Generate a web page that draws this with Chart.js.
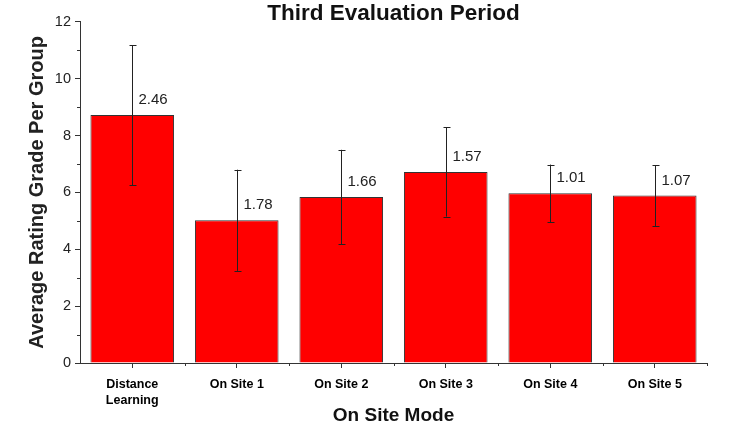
<!DOCTYPE html>
<html>
<head>
<meta charset="utf-8">
<script src="https://cdn.jsdelivr.net/npm/chart.js@4"></script>
<style>
  html, body { margin: 0; padding: 0; background: #fff; }
  #wrap { width: 738px; height: 427px; }
</style>
</head>
<body>
<div id="wrap"><canvas id="myChart" width="738" height="427"></canvas></div>
<script>
const labels = [['Distance', 'Learning'], 'On Site 1', 'On Site 2', 'On Site 3', 'On Site 4', 'On Site 5'];
const means = [8.72, 5.02, 5.84, 6.72, 5.97, 5.89];
const sds = [2.46, 1.78, 1.66, 1.57, 1.01, 1.07];
const yTicks = [0, 2, 4, 6, 8, 10, 12];

const FONT = 'Liberation Sans, Arial, sans-serif';

// minor ticks, category boundary ticks, error bars and sd labels
const extras = {
  id: 'extras',
  afterDatasetsDraw(chart) {
    const ctx = chart.ctx;
    const y = chart.scales.y;
    const area = chart.chartArea;
    ctx.save();
    ctx.strokeStyle = '#333';
    ctx.lineWidth = 1;
    // y minor ticks
    for (let v = 1; v < 12; v += 2) {
      const py = Math.round(y.getPixelForValue(v)) + 0.5;
      ctx.beginPath();
      ctx.moveTo(area.left - 3, py);
      ctx.lineTo(area.left, py);
      ctx.stroke();
    }
    // x boundary ticks
    const step = (area.right - area.left) / labels.length;
    for (let i = 1; i <= labels.length; i++) {
      const px = Math.round(area.left + step * i) + 0.5;
      ctx.beginPath();
      ctx.moveTo(px, area.bottom);
      ctx.lineTo(px, area.bottom + 3);
      ctx.stroke();
    }
    // error bars
    const meta = chart.getDatasetMeta(0);
    ctx.strokeStyle = '#222';
    meta.data.forEach((bar, i) => {
      const cx = Math.round(bar.x) + 0.5;
      const top = y.getPixelForValue(means[i] + sds[i]);
      const bot = y.getPixelForValue(means[i] - sds[i]);
      ctx.beginPath();
      ctx.moveTo(cx, top);
      ctx.lineTo(cx, bot);
      ctx.moveTo(cx - 3, Math.round(top) + 0.5);
      ctx.lineTo(cx + 4, Math.round(top) + 0.5);
      ctx.moveTo(cx - 3, Math.round(bot) + 0.5);
      ctx.lineTo(cx + 4, Math.round(bot) + 0.5);
      ctx.stroke();
      ctx.fillStyle = '#222';
      ctx.font = '15px ' + FONT;
      ctx.textAlign = 'left';
      ctx.textBaseline = 'middle';
      ctx.fillText(sds[i].toFixed(2), cx + 6, bar.y - 15);
    });
    ctx.restore();
  }
};

const config = {
  type: 'bar',
  data: {
    labels: labels,
    datasets: [{
      data: means,
      backgroundColor: '#ff0000',
      borderColor: '#333',
      borderWidth: 1,
      barPercentage: 0.8,
      categoryPercentage: 1.0
    }]
  },
  options: {
    responsive: false,
    animation: false,
    layout: { padding: { left: 0, right: 31, top: 0, bottom: 0 } },
    plugins: {
      legend: { display: false },
      tooltip: { enabled: false },
      title: {
        display: true,
        text: 'Third Evaluation Period',
        fullSize: false,
        color: '#111',
        font: { family: FONT, size: 22.5, weight: 'bold', lineHeight: 0.75 },
        padding: { top: 5, bottom: 0 }
      }
    },
    scales: {
      x: {
        grid: { display: true, drawOnChartArea: false, offset: false, color: '#333', tickLength: 5 },
        border: { display: true, color: '#333', width: 1 },
        ticks: {
          color: '#000',
          padding: 8,
          maxRotation: 0,
          font: { family: FONT, size: 12.5, weight: 'bold', lineHeight: 1.3 }
        },
        title: {
          display: true,
          text: 'On Site Mode',
          color: '#111',
          font: { family: FONT, size: 19, weight: 'bold' },
          padding: { top: 0, bottom: 0 }
        },
        afterFit(scale) { scale.height = 64; }
      },
      y: {
        min: 0,
        max: 12,
        afterBuildTicks(scale) { scale.ticks = yTicks.map(v => ({ value: v })); },
        grid: { display: true, drawOnChartArea: false, color: '#333', tickLength: 5 },
        border: { display: true, color: '#333', width: 1 },
        ticks: {
          color: '#222',
          padding: 4,
          font: { family: FONT, size: 14.5 }
        },
        title: {
          display: true,
          text: 'Average Rating Grade Per Group',
          color: '#222',
          font: { family: FONT, size: 20, weight: 'bold' },
          padding: { top: 25, bottom: 0 }
        },
        afterFit(scale) { scale.width = 80; }
      }
    }
  },
  plugins: [extras]
};

var myChart = new Chart(document.getElementById('myChart'), config);
</script>
</body>
</html>
